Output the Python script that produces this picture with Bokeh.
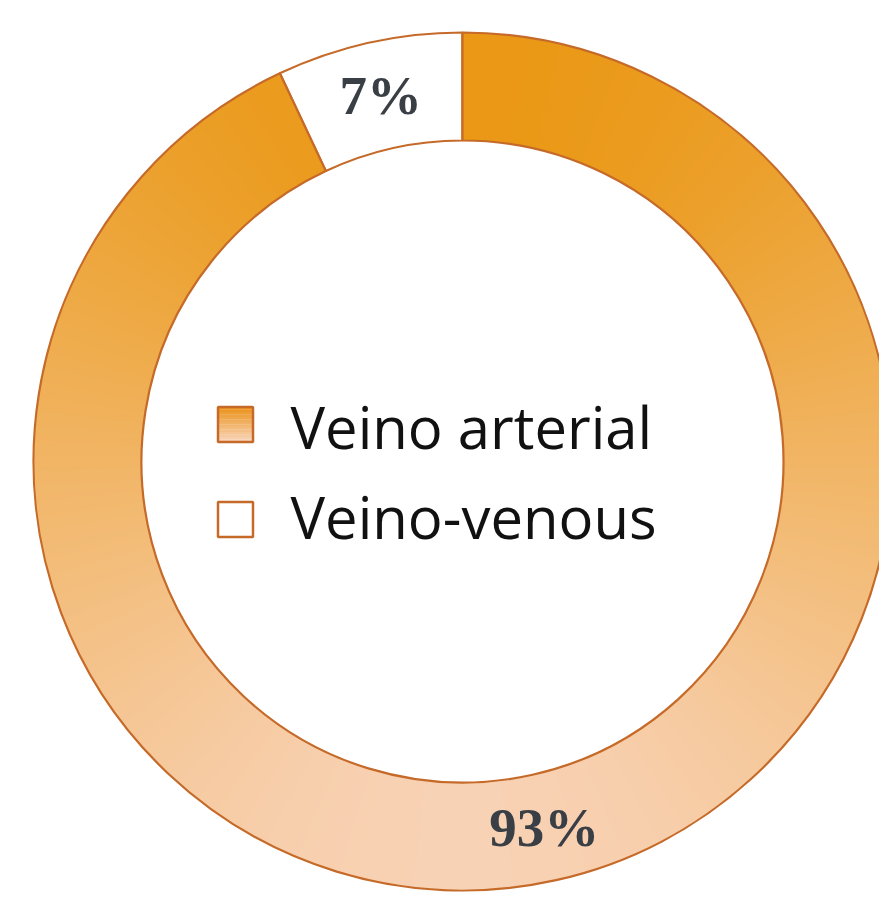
import numpy as np
from bokeh.plotting import figure
from bokeh.models import Range1d
from bokeh.core.properties import value
from bokeh.embed import file_html
from bokeh.resources import INLINE

# ---- data ----
categories = ["Veino-venous", "Veino arterial"]
shares = [7, 93]          # percent
labels = ["7%", "93%"]
fill_kind = ["white", "gradient"]

# ---- style / geometry (page pixel units) ----
W, H = 879, 897
CX, CY = 462, 897 - 461
R_OUT, R_IN = 429, 321
TOP_RGB = np.array([233, 148, 10])
BOT_RGB = np.array([249, 214, 192])
LINE = "#C56A28"
Y_TOP, Y_BOT = 897 - 32, 897 - 892


def grad_color(y):
    t = np.clip((Y_TOP - y) / (Y_TOP - Y_BOT), 0, 1)
    c = TOP_RGB + (BOT_RGB - TOP_RGB) * t
    return "#%02x%02x%02x" % tuple(int(round(v)) for v in c)


p = figure(width=W, height=H, output_backend="svg", toolbar_location=None,
           x_range=Range1d(0, W), y_range=Range1d(0, H),
           min_border=0, outline_line_color=None)
p.axis.visible = False
p.grid.visible = False
p.background_fill_color = "white"
p.border_fill_color = "white"

start = np.pi / 2
for share, lab, kind in zip(shares, labels, fill_kind):
    span = 2 * np.pi * share / 100.0
    end = start + span
    if kind == "gradient":
        n = max(int(np.degrees(span) * 2), 2)
        edges = np.linspace(start, end, n + 1)
        mids = (edges[:-1] + edges[1:]) / 2
        ym = CY + (R_IN + R_OUT) / 2 * np.sin(mids)
        cols = [grad_color(y) for y in ym]
        p.annular_wedge(x=CX, y=CY, inner_radius=R_IN, outer_radius=R_OUT,
                        start_angle=edges[:-1], end_angle=edges[1:] + 0.003,
                        fill_color=cols, line_color=None)
    else:
        p.annular_wedge(x=CX, y=CY, inner_radius=R_IN, outer_radius=R_OUT,
                        start_angle=start, end_angle=end,
                        fill_color="white", line_color=None)
    p.annular_wedge(x=CX, y=CY, inner_radius=R_IN, outer_radius=R_OUT,
                    start_angle=start, end_angle=end,
                    fill_color=None, line_color=LINE, line_width=2.2)
    mid = (start + end) / 2
    rm = (R_IN + R_OUT) / 2
    p.text(x=[CX + rm * np.cos(mid)], y=[CY + rm * np.sin(mid)], text=[lab],
           text_align="center", text_baseline="middle",
           text_font=value("Liberation Serif"), text_font_style="bold",
           text_font_size="55px", text_color="#3a3f46")
    start = end

# ---- legend (inside the hole) ----
leg_items = ["Veino arterial", "Veino-venous"]
leg_fill = ["gradient", "white"]
LX, SQ = 235, 35
LY = [897 - 424, 897 - 519]
TY = [897 - 426, 897 - 516]
for item, kind, ly, ty in zip(leg_items, leg_fill, LY, TY):
    if kind == "gradient":
        nstrip = 14
        hs = SQ / nstrip
        tops = ly + SQ / 2 - hs * np.arange(nstrip)
        cols = []
        for i in range(nstrip):
            t = i / (nstrip - 1)
            c = np.array([236, 148, 28]) + (np.array([248, 212, 185]) - np.array([236, 148, 28])) * t
            cols.append("#%02x%02x%02x" % tuple(int(v) for v in c))
        p.quad(left=LX - SQ / 2, right=LX + SQ / 2, top=tops, bottom=tops - hs - 0.3,
               fill_color=cols, line_color=None)
    else:
        p.quad(left=LX - SQ / 2, right=LX + SQ / 2, top=ly + SQ / 2, bottom=ly - SQ / 2,
               fill_color="white", line_color=None)
    p.quad(left=LX - SQ / 2, right=LX + SQ / 2, top=ly + SQ / 2, bottom=ly - SQ / 2,
           fill_color=None, line_color=LINE, line_width=2.5)
    p.text(x=[290], y=[ty], text=[item], text_align="left", text_baseline="middle",
           text_font=value("Open Sans"), text_font_size="58px", text_color="#111111")

open("out.html", "w").write(file_html(p, INLINE))
